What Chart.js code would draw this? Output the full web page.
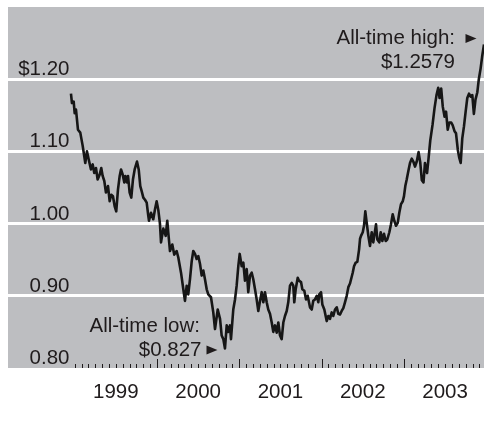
<!DOCTYPE html>
<html><head><meta charset="utf-8">
<script src="https://cdn.jsdelivr.net/npm/chart.js@4.4.1/dist/chart.umd.min.js"></script>
<style>html,body{margin:0;padding:0;background:#fff;} canvas{display:block;}</style>
</head><body>
<canvas id="c" width="484" height="430"></canvas>
<script>
// Dates as fractional years
const dates = [1998.955,1998.967,1998.988,1999.000,1999.016,1999.040,1999.068,1999.097,1999.129,1999.149,1999.170,1999.198,1999.219,1999.238,1999.259,1999.279,1999.304,1999.323,1999.340,1999.360,1999.380,1999.405,1999.425,1999.445,1999.465,1999.486,1999.505,1999.526,1999.547,1999.563,1999.583,1999.603,1999.615,1999.636,1999.648,1999.668,1999.688,1999.708,1999.729,1999.757,1999.778,1999.797,1999.814,1999.834,1999.854,1999.875,1999.894,1999.903,1999.927,1999.955,1999.976,1999.996,
2000.016,2000.036,2000.049,2000.077,2000.106,2000.125,2000.137,2000.158,2000.186,2000.210,2000.239,2000.259,2000.292,2000.320,2000.340,2000.361,2000.380,2000.401,2000.422,2000.441,2000.462,2000.482,2000.502,2000.523,2000.543,2000.563,2000.583,2000.604,2000.623,2000.656,2000.684,2000.705,2000.738,2000.766,2000.786,2000.806,2000.826,2000.847,2000.866,2000.887,2000.899,2000.927,2000.948,2000.968,2000.988,
2001.005,2001.029,2001.049,2001.069,2001.090,2001.109,2001.130,2001.151,2001.170,2001.191,2001.211,2001.231,2001.252,2001.272,2001.292,2001.312,2001.333,2001.352,2001.373,2001.394,2001.413,2001.434,2001.455,2001.474,2001.495,2001.515,2001.535,2001.555,2001.576,2001.595,2001.616,2001.637,2001.656,2001.668,2001.685,2001.710,2001.725,2001.750,2001.766,2001.790,2001.811,2001.831,2001.859,2001.880,2001.899,2001.920,2001.941,2001.960,2001.972,2001.993,
2002.009,2002.033,2002.062,2002.082,2002.102,2002.123,2002.142,2002.163,2002.184,2002.203,2002.224,2002.244,2002.264,2002.284,2002.305,2002.325,2002.345,2002.378,2002.394,2002.414,2002.434,2002.455,2002.467,2002.479,2002.500,2002.515,2002.531,2002.548,2002.568,2002.588,2002.609,2002.628,2002.649,2002.661,2002.677,2002.701,2002.718,2002.738,2002.758,2002.779,2002.798,2002.823,2002.843,2002.864,2002.883,2002.904,2002.925,2002.944,2002.965,2002.986,
2003.001,2003.017,2003.034,2003.054,2003.074,2003.095,2003.114,2003.135,2003.156,2003.178,2003.198,2003.218,2003.238,2003.256,2003.281,2003.300,2003.320,2003.348,2003.372,2003.396,2003.417,2003.433,2003.453,2003.472,2003.494,2003.512,2003.532,2003.552,2003.575,2003.593,2003.615,2003.633,2003.655,2003.673,2003.690,2003.709,2003.730,2003.750,2003.770,2003.791,2003.811,2003.831,2003.850,2003.870,2003.892,2003.910,2003.932,2003.950,2003.973];

// Euro in dollars
const rates = [1.180,1.167,1.169,1.153,1.158,1.130,1.126,1.108,1.084,1.100,1.089,1.075,1.082,1.070,1.077,1.061,1.068,1.077,1.066,1.059,1.043,1.052,1.031,1.040,1.038,1.024,1.017,1.047,1.066,1.075,1.068,1.057,1.066,1.057,1.066,1.043,1.036,1.061,1.075,1.086,1.075,1.052,1.045,1.036,1.033,1.029,1.011,1.004,1.015,1.006,1.020,1.031,
1.019,1.000,0.974,0.993,0.983,1.004,0.988,0.962,0.971,0.957,0.962,0.953,0.932,0.909,0.893,0.914,0.902,0.923,0.948,0.962,0.958,0.951,0.955,0.944,0.928,0.935,0.923,0.909,0.902,0.898,0.877,0.854,0.881,0.868,0.845,0.840,0.827,0.859,0.850,0.859,0.840,0.881,0.895,0.914,0.941,
0.958,0.941,0.946,0.921,0.937,0.905,0.928,0.932,0.923,0.909,0.895,0.879,0.893,0.905,0.891,0.905,0.891,0.881,0.875,0.863,0.850,0.859,0.849,0.863,0.845,0.840,0.863,0.872,0.879,0.891,0.914,0.918,0.914,0.891,0.909,0.925,0.921,0.919,0.909,0.907,0.895,0.900,0.884,0.881,0.893,0.895,0.900,0.891,0.902,0.905,
0.888,0.881,0.865,0.872,0.868,0.877,0.872,0.881,0.884,0.875,0.874,0.879,0.883,0.891,0.900,0.912,0.917,0.932,0.941,0.946,0.947,0.964,0.979,0.983,0.988,0.997,1.017,1.001,0.983,0.969,0.988,0.974,0.990,0.999,0.978,0.974,0.988,0.976,0.986,0.976,0.978,0.988,0.999,1.013,1.004,0.997,1.001,1.015,1.027,1.031,
1.038,1.052,1.061,1.073,1.084,1.090,1.086,1.079,1.086,1.099,1.085,1.060,1.057,1.084,1.070,1.091,1.115,1.137,1.160,1.178,1.188,1.174,1.187,1.162,1.148,1.155,1.130,1.140,1.140,1.136,1.128,1.125,1.102,1.091,1.084,1.118,1.135,1.155,1.174,1.180,1.176,1.178,1.152,1.172,1.182,1.200,1.215,1.231,1.248];

const yearLabels = [1999, 2000, 2001, 2002, 2003];
const yTickValues = [0.8, 0.9, 1.0, 1.1, 1.2];
const yTickLabels = ['0.80', '0.90', '1.00', '1.10', '$1.20'];
const highText = ['All-time high:', '$1.2579'];
const highPoint = { x: 2003.973, y: 1.2579 };
const lowText = ['All-time low:', '$0.827'];
const lowPoint = { x: 2000.826, y: 0.827 };

const FAMILY = '"Liberation Sans", Arial, Helvetica, sans-serif';
const FSIZE = 20.5;
const FONT = FSIZE + 'px ' + FAMILY;
const TEXT = '#1f1b1c';
const GRAY = 'rgb(189,190,193)';

function triangle(ctx, x, y) {
  ctx.beginPath();
  ctx.moveTo(x, y - 4.5);
  ctx.lineTo(x + 11, y);
  ctx.lineTo(x, y + 4.5);
  ctx.closePath();
  ctx.fill();
}

const decor = {
  id: 'decor',
  beforeDraw(chart) {
    const { ctx, chartArea: a } = chart;
    ctx.save();
    ctx.fillStyle = GRAY;
    ctx.fillRect(a.left, a.top, a.right - a.left, a.bottom - a.top);
    ctx.restore();
  },
  afterDatasetsDraw(chart) {
    const { ctx, chartArea: a, scales: { x, y } } = chart;
    ctx.save();
    // month ticks along the bottom edge
    ctx.strokeStyle = TEXT;
    ctx.lineWidth = 1;
    yearLabels.forEach(yr => {
      for (let m = 0; m < 12; m++) {
        const px = Math.round(x.getPixelForValue(yr + m / 12)) + 0.5;
        const major = m === 0 && yr !== yearLabels[0];
        ctx.beginPath();
        ctx.moveTo(px, a.bottom);
        ctx.lineTo(px, a.bottom - (major ? 9 : 4));
        ctx.stroke();
      }
    });
    // value labels inside the plot
    ctx.font = FONT;
    ctx.fillStyle = TEXT;
    ctx.textAlign = 'right';
    ctx.textBaseline = 'alphabetic';
    yTickValues.forEach((v, i) => {
      ctx.fillText(yTickLabels[i], a.left + 61.5, y.getPixelForValue(v) - 4);
    });
    // high annotation
    const hx = x.getPixelForValue(highPoint.x), hy = y.getPixelForValue(highPoint.y);
    ctx.fillText(highText[0], hx - 29, hy + 6.5);
    ctx.fillText(highText[1], hx - 29, hy + 31);
    triangle(ctx, hx - 18.5, hy + 1);
    // low annotation
    const lx = x.getPixelForValue(lowPoint.x), ly = y.getPixelForValue(lowPoint.y);
    ctx.fillText(lowText[0], lx - 25, ly - 16.5);
    ctx.fillText(lowText[1], lx - 23.5, ly + 7);
    triangle(ctx, lx - 18.5, ly + 1.5);
    ctx.restore();
  }
};

new Chart(document.getElementById('c'), {
  type: 'line',
  data: {
    datasets: [{
      data: dates.map((d, i) => ({ x: d, y: rates[i] })),
      borderColor: '#161616',
      borderWidth: 2.6,
      pointRadius: 0,
      tension: 0,
      borderJoinStyle: 'round',
      fill: false
    }]
  },
  options: {
    responsive: false,
    animation: false,
    devicePixelRatio: 1,
    layout: { padding: { top: 7, right: 0, left: 0, bottom: 0 } },
    plugins: { legend: { display: false }, tooltip: { enabled: false } },
    scales: {
      x: {
        type: 'linear',
        min: 1998.19,
        max: 2003.973,
        afterBuildTicks: s => { s.ticks = yearLabels.map(v => ({ value: v + 0.5 })); },
        afterFit: s => { s.height = 62; },
        grid: { display: false, drawTicks: false },
        border: { display: false },
        ticks: {
          autoSkip: false, maxRotation: 0, minRotation: 0, padding: 12,
          color: TEXT, font: { family: FAMILY, size: FSIZE },
          callback: v => String(Math.floor(v))
        }
      },
      y: {
        min: 0.8,
        max: 1.3,
        afterFit: s => { s.width = 8; },
        grid: {
          color: c => (c.tick && c.tick.value > 0.85 && c.tick.value < 1.25) ? '#ffffff' : 'rgba(0,0,0,0)',
          lineWidth: 3,
          drawTicks: false
        },
        border: { display: false },
        ticks: { display: false, stepSize: 0.1 }
      }
    }
  },
  plugins: [decor]
});
</script>
</body></html>
